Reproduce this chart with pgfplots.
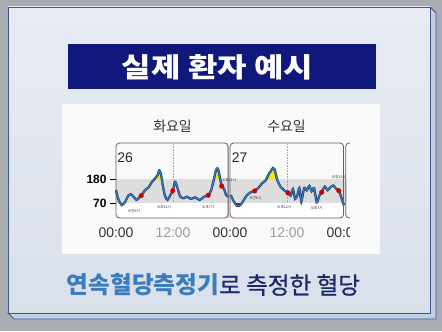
\documentclass[border=0pt]{standalone}
\usepackage{fontspec}
\setmainfont{Liberation Sans}
\newfontfamily\kr{Noto Sans CJK KR}
\newfontfamily\krm[FakeBold=0.8]{Noto Sans CJK KR}
\usepackage{pgfplots}
\pgfplotsset{compat=1.18}
\usepackage{pgfplotstable}
\usepackage{graphicx}

\definecolor{bgout}{HTML}{A9ADB3}
\definecolor{cardT}{HTML}{E7ECF4}
\definecolor{cardB}{HTML}{DAE0EA}
\definecolor{cardb}{HTML}{3E5889}
\definecolor{bevel}{HTML}{C2CFE5}
\definecolor{navy}{HTML}{10197B}
\definecolor{band}{HTML}{DDDDDD}
\definecolor{lineD}{HTML}{1C3F6A}
\definecolor{lineL}{HTML}{3C7DC0}
\definecolor{dotR}{HTML}{D00000}
\definecolor{yel}{HTML}{F4E612}
\definecolor{blueT}{HTML}{3A7CBE}
\definecolor{navyT}{HTML}{1B2A6B}
\definecolor{wbg}{HTML}{FAFAFA}
\definecolor{dk}{HTML}{333333}
\definecolor{lg}{HTML}{9A9A9A}
\definecolor{frm}{HTML}{606060}

\pgfplotstableread{
h g
0.0 131
0.5 88
1.2 62
1.9 76
2.6 106
3.1 112
3.7 100
4.25 86
4.75 93
5.3 105
6.1 130
6.85 143
7.55 168
8.25 185
8.75 200
9.1 221
9.45 206
9.9 146
10.35 102
10.85 86
11.4 106
11.95 128
12.45 168
12.95 140
13.5 102
14.2 93
14.95 100
15.8 90
16.7 97
17.6 85
18.5 100
19.4 107
20.0 128
20.55 175
21.05 222
21.45 230
21.85 192
22.25 149
22.7 138
23.2 108
23.73 100
}\pA

\pgfplotstableread{
h g
24.15 108
24.8 78
25.5 58
26.2 62
26.9 85
27.6 108
28.45 122
29.2 127
30.05 143
30.75 162
31.45 174
32.15 204
32.7 222
33.05 233
33.4 226
33.95 177
34.65 146
35.35 131
36.2 118
36.75 105
37.25 135
37.7 90
38.15 105
38.6 140
39.0 78
39.6 140
40.15 130
40.7 150
41.2 125
41.7 140
42.25 75
42.8 105
43.3 121
43.95 147
44.5 130
45.05 142
45.7 152
46.3 138
46.9 128
47.45 95
48.0 60
}\pB

\pgfplotstableread{
h g
5.3 105
11.95 128
19.4 107
22.25 149
29.2 127
36.2 118
43.3 121
46.9 128
}\pDots

\begin{document}
\begin{tikzpicture}[x=1bp,y=1bp]
\useasboundingbox (0,0) rectangle (442,331);
\fill[bgout] (0,0) rectangle (442,331);
% card bevel and card
\filldraw[fill=bevel, draw=cardb, line width=0.8bp] (430,324) -- (436,318) -- (436,12) -- (14,12) -- (8,18) -- (430,18) -- cycle;
\shade[top color=cardT, bottom color=cardB] (8,18) rectangle (430,324);
\draw[cardb, line width=0.8bp] (8,18) rectangle (430,324);
% banner
\fill[navy] (68,242) rectangle (376,287);
\node[text=white, inner sep=0] at (217.5,263.5) {\resizebox{191bp}{23bp}{\kr\bfseries 실제 환자 예시}};
% white chart area
\fill[wbg] (62,77) rectangle (380,227);
% day labels
\node[font=\kr\fontsize{14}{14}\selectfont, text=dk, inner sep=0] at (172.5,204.3) {화요일};
\node[font=\kr\fontsize{14}{14}\selectfont, text=dk, inner sep=0] at (286.5,204.3) {수요일};

\begin{axis}[
  at={(116bp,113bp)}, anchor=south west,
  scale only axis, width=234.2bp, height=75bp,
  xmin=0, xmax=49.3, ymin=2, ymax=348,
  clip=false,
  axis line style={draw=none},
  xtick={0,12,24,36,48},
  xticklabels={\textcolor{dk}{00:00},\textcolor{lg}{12:00},\textcolor{dk}{00:00},\textcolor{lg}{12:00},\textcolor{dk}{00:00}},
  xtick style={draw=none},
  xtick pos=bottom,
  ytick={70,180},
  ytick pos=left,
  ytick style={black, line width=0.9bp},
  tick align=outside,
  major tick length=6bp,
  /pgf/number format/assume math mode=true,
  yticklabel style={font=\bfseries\fontsize{12}{12}\selectfont, text=black},
  xticklabel style={font=\fontsize{14}{14}\selectfont},
]
\fill[band] (axis cs:0,70) rectangle (axis cs:48.6,180);
\draw[gray!70, densely dotted, line width=0.6bp] (axis cs:12,2) -- (axis cs:12,348);
\draw[gray!70, densely dotted, line width=0.6bp] (axis cs:36,2) -- (axis cs:36,348);

\begin{scope}
\clip (axis cs:0,180) rectangle (axis cs:48.5,348);
\addplot[fill=yel, draw=none, smooth] table {\pA} \closedcycle;
\addplot[fill=yel, draw=none, smooth] table {\pB} \closedcycle;
\end{scope}

\begin{scope}
\clip (axis cs:0,2) rectangle (axis cs:48.5,70);
\fill[dotR] (axis cs:0,2) rectangle (axis cs:23.73,70);
\fill[dotR] (axis cs:24.15,2) rectangle (axis cs:48,70);
\addplot[fill=white, draw=none, smooth] table {\pA} \closedcycle;
\addplot[fill=white, draw=none, smooth] table {\pB} \closedcycle;
\end{scope}

\addplot[lineD, line width=2.3bp, smooth] table {\pA};
\addplot[lineL, line width=1bp, smooth] table {\pA};
\addplot[lineD, line width=2.3bp, smooth] table {\pB};
\addplot[lineL, line width=1bp, smooth] table {\pB};

\addplot[only marks, mark=*, mark size=2.3bp, mark options={draw=dotR, fill=dotR}] table {\pDots};

\draw[frm, line width=0.8bp, rounded corners=3.5bp] (axis cs:0,2) rectangle (axis cs:23.6,348);
\draw[frm, line width=0.8bp, rounded corners=3.5bp] (axis cs:24,2) rectangle (axis cs:47.9,348);
\draw[frm, line width=0.8bp, rounded corners=3.5bp] (axis cs:49.3,348) -- (axis cs:48.35,348) -- (axis cs:48.35,2) -- (axis cs:49.3,2);

\node[anchor=west, inner sep=0, font=\fontsize{14}{14}\selectfont, text=black!85] at (axis cs:0.25,279) {26};
\node[anchor=west, inner sep=0, font=\fontsize{14}{14}\selectfont, text=black!85] at (axis cs:24.35,279) {27};

\tikzset{sl/.style={inner sep=0, font=\kr\fontsize{3.6}{4}\selectfont, text=black!85}}
\node[sl] at (axis cs:3.8,34.5) {오전6시};
\node[sl] at (axis cs:10.1,54) {오후12시};
\node[sl] at (axis cs:19.4,51.5) {오후7시};
\node[sl] at (axis cs:23.8,174.5) {오후11시};
\node[sl] at (axis cs:29.3,93) {오전6시};
\node[sl] at (axis cs:35.4,51.5) {오후12시};
\node[sl] at (axis cs:42.25,47) {오후7시};
\node[sl] at (axis cs:46.9,190) {오후11시};
\end{axis}

% crop of the third tick label
\fill[wbg] (350.4,86) rectangle (379,107);

% bottom caption
\node[inner sep=0] at (213.5,46) {\resizebox{293bp}{!}{\textcolor{blueT}{\kr\bfseries 연속혈당측정기}\textcolor{navyT}{\krm 로 측정한 혈당}}};
\end{tikzpicture}
\end{document}
